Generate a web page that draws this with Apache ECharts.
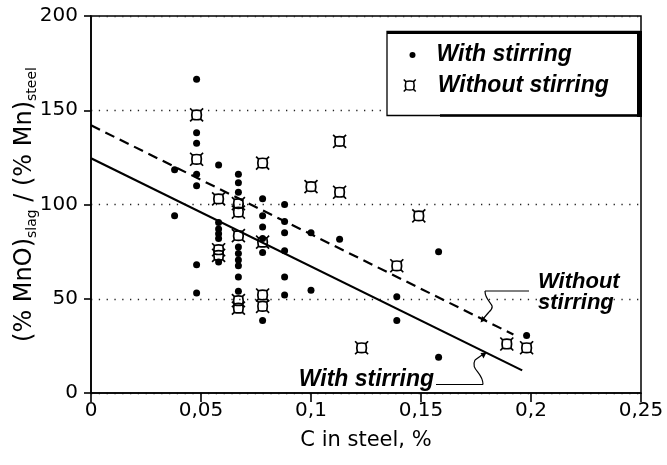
<!DOCTYPE html>
<html>
<head>
<meta charset="utf-8">
<script src="https://cdn.jsdelivr.net/npm/echarts@6/dist/echarts.min.js"></script>
<style>
html,body{margin:0;padding:0;background:#fff;}
#chart{width:667px;height:465px;}
</style>
</head>
<body>
<div id="chart"></div>
<script>
// ---- data ----
const withStirringC = [
  0.038, 0.038,
  0.048, 0.048, 0.048, 0.048, 0.048, 0.048, 0.048,
  0.058, 0.058, 0.058, 0.058, 0.058, 0.058,
  0.067, 0.067, 0.067, 0.067, 0.067, 0.067, 0.067, 0.067, 0.067,
  0.078, 0.078, 0.078, 0.078, 0.078, 0.078,
  0.088, 0.088, 0.088, 0.088, 0.088, 0.088,
  0.1, 0.1,
  0.113,
  0.139, 0.139,
  0.158, 0.158,
  0.198
];
const withStirringRatio = [
  118.5, 94,
  166.5, 138, 132.5, 116, 110, 68, 53,
  121, 90.5, 87, 84.5, 82, 69.5,
  116, 111.5, 106.5, 77.5, 74, 70.5, 67.5, 61.5, 54,
  103, 94, 88, 82, 74.5, 38.5,
  100, 91, 85, 75.5, 61.5, 52,
  85, 54.5,
  81.5,
  51, 38.5,
  75, 19,
  30.5
];
const withoutStirringC = [
  0.048, 0.048,
  0.058, 0.058, 0.058,
  0.067, 0.067, 0.067, 0.067, 0.067,
  0.078, 0.078, 0.078, 0.078,
  0.1,
  0.113, 0.113,
  0.123,
  0.139,
  0.149,
  0.189,
  0.198
];
const withoutStirringRatio = [
  147.5, 124,
  103, 76, 73,
  100.5, 96, 83.5, 49, 45,
  122, 80, 52, 46,
  109.5,
  133.5, 106.5,
  24,
  67.5,
  94,
  26,
  24
];
// regression lines (end points as drawn)
const fitWithC = [0, 0.196];
const fitWithRatio = [124.5, 12];
const fitWithoutC = [0, 0.192];
const fitWithoutRatio = [142, 31];

const xTicks = [0, 0.05, 0.1, 0.15, 0.2, 0.25];
const yTicks = [0, 50, 100, 150, 200];

const seriesNames = ['With stirring', 'Without stirring'];
const xTitle = 'C in steel, %';
// ---------------------------------------

const zip = (a, b) => a.map((v, i) => [v, b[i]]);
const BOX = 'path://M1 1 L4.2 4.2 M19 1 L15.8 4.2 M1 19 L4.2 15.8 M19 19 L15.8 15.8 ' +
            'M4.2 4.2 Q10 2.6 15.8 4.2 Q17.4 10 15.8 15.8 Q10 17.4 4.2 15.8 Q2.6 10 4.2 4.2 Z';

const tickFont = 'DejaVu Sans';
const boldFont = 'Liberation Sans';

const chart = echarts.init(document.getElementById('chart'), null, {renderer: 'canvas'});

const option = {
  backgroundColor: '#fff',
  animation: false,
  grid: {
    left: 91, right: 26, top: 16, bottom: 72,
    containLabel: false, outerBoundsMode: 'none',
    show: true, borderColor: '#000', borderWidth: 1.5, backgroundColor: 'transparent'
  },
  xAxis: {
    type: 'value', min: xTicks[0], max: xTicks[xTicks.length - 1], interval: 0.05,
    name: xTitle, nameLocation: 'middle', nameGap: 37, nameMoveOverlap: false,
    nameTextStyle: {fontFamily: tickFont, fontSize: 21, color: '#000'},
    axisLine: {show: true, lineStyle: {color: '#000', width: 1.6}},
    axisTick: {show: true, inside: false, length: 9, lineStyle: {color: '#000', width: 1.6}},
    axisLabel: {
      margin: 8, fontFamily: tickFont, fontSize: 20, color: '#000',
      formatter: v => String(+v.toFixed(2)).replace('.', ',')
    },
    splitLine: {show: false}
  },
  yAxis: {
    type: 'value', min: yTicks[0], max: yTicks[yTicks.length - 1], interval: 50,
    name: '(% MnO){sub|slag} / (% Mn){sub|steel}',
    nameLocation: 'middle', nameRotate: 90, nameGap: 52, nameMoveOverlap: false,
    nameTextStyle: {
      fontFamily: tickFont, fontSize: 24, color: '#000', lineHeight: 29,
      rich: {
        sub: {fontFamily: tickFont, fontSize: 14, color: '#000', lineHeight: 14, verticalAlign: 'bottom'}
      }
    },
    axisLine: {show: true, lineStyle: {color: '#000', width: 1.6}},
    axisTick: {show: true, inside: false, length: 7, lineStyle: {color: '#000', width: 1.6}},
    axisLabel: {margin: 13, fontFamily: tickFont, fontSize: 20, color: '#000'},
    splitLine: {show: true, lineStyle: {color: '#222', width: 1.3, type: [1.3, 6.5]}}
  },
  legend: [
    {
      data: [seriesNames[0]], left: 409.5, top: 43.5, padding: 0, z: 20,
      itemWidth: 6, itemHeight: 6, icon: 'circle', selectedMode: false,
      textStyle: {fontFamily: boldFont, fontSize: 23, fontWeight: 'bold', fontStyle: 'italic',
                  color: '#000', padding: [0, 0, 0, 16]}
    },
    {
      data: [seriesNames[1]], left: 403, top: 74, padding: 0, z: 20,
      itemWidth: 12, itemHeight: 12, selectedMode: false,
      itemStyle: {color: 'transparent', borderColor: '#000', borderWidth: 1.5},
      textStyle: {fontFamily: boldFont, fontSize: 23, fontWeight: 'bold', fontStyle: 'italic',
                  color: '#000', padding: [0, 0, 0, 17]}
    }
  ],
  graphic: [
    // legend frame
    {type: 'rect', z: 10, shape: {x: 387, y: 31.5, width: 253, height: 84},
     style: {fill: '#fff', stroke: '#000', lineWidth: 1.3}},
    {type: 'line', z: 11, shape: {x1: 387, y1: 32.5, x2: 642, y2: 32.5}, style: {stroke: '#000', lineWidth: 3}},
    {type: 'line', z: 11, shape: {x1: 639.5, y1: 31, x2: 639.5, y2: 117}, style: {stroke: '#000', lineWidth: 5}},
    {type: 'line', z: 11, shape: {x1: 440, y1: 115.5, x2: 642, y2: 115.5}, style: {stroke: '#000', lineWidth: 2.5}},
    // annotation: Without stirring
    {type: 'text', z: 10, style: {x: 538, y: 282, text: 'Without', fontFamily: boldFont, fontSize: 22,
      fontWeight: 'bold', fontStyle: 'italic', fill: '#000', verticalAlign: 'middle', align: 'left'}},
    {type: 'text', z: 10, style: {x: 538, y: 303, text: 'stirring', fontFamily: boldFont, fontSize: 22,
      fontWeight: 'bold', fontStyle: 'italic', fill: '#000', verticalAlign: 'middle', align: 'left'}},
    {type: 'line', z: 10, shape: {x1: 529, y1: 291, x2: 485, y2: 291}, style: {stroke: '#000', lineWidth: 1.2}},
    {type: 'bezierCurve', z: 10, shape: {x1: 485, y1: 291, cpx1: 485, cpy1: 303, cpx2: 498, cpy2: 304, x2: 489, y2: 312},
     style: {stroke: '#000', lineWidth: 1.2, fill: 'none'}},
    {type: 'line', z: 10, shape: {x1: 489, y1: 312, x2: 483, y2: 319}, style: {stroke: '#000', lineWidth: 1.2}},
    {type: 'polygon', z: 10, shape: {points: [[480.5, 322.5], [486.5, 320], [482, 316]]}, style: {fill: '#000'}},
    // annotation: With stirring
    {type: 'text', z: 10, style: {x: 434, y: 380, text: 'With stirring', fontFamily: boldFont, fontSize: 23,
      fontWeight: 'bold', fontStyle: 'italic', fill: '#000', verticalAlign: 'middle', align: 'right'}},
    {type: 'line', z: 10, shape: {x1: 436, y1: 384.5, x2: 483, y2: 384.5}, style: {stroke: '#000', lineWidth: 1.2}},
    {type: 'bezierCurve', z: 10, shape: {x1: 483, y1: 384.5, cpx1: 483, cpy1: 372, cpx2: 470, cpy2: 370, x2: 475, y2: 360},
     style: {stroke: '#000', lineWidth: 1.2, fill: 'none'}},
    {type: 'line', z: 10, shape: {x1: 475, y1: 360, x2: 482, y2: 355}, style: {stroke: '#000', lineWidth: 1.2}},
    {type: 'polygon', z: 10, shape: {points: [[486.5, 352.5], [480.5, 353], [483.5, 358.5]]}, style: {fill: '#000'}}
  ],
  series: [
    {
      name: seriesNames[0], type: 'scatter', symbol: 'circle', symbolSize: 7, z: 4,
      itemStyle: {color: '#000', opacity: 1},
      data: zip(withStirringC, withStirringRatio)
    },
    {
      name: seriesNames[1], type: 'scatter', symbol: BOX, symbolSize: 13, z: 5,
      itemStyle: {color: 'transparent', borderColor: '#000', borderWidth: 1.7, opacity: 1},
      data: zip(withoutStirringC, withoutStirringRatio)
    },
    {
      name: 'fit with stirring', type: 'line', symbol: 'none', z: 3,
      lineStyle: {color: '#000', width: 2.2},
      data: zip(fitWithC, fitWithRatio)
    },
    {
      name: 'fit without stirring', type: 'line', symbol: 'none', z: 3,
      lineStyle: {color: '#000', width: 2.2, type: [10, 6]},
      data: zip(fitWithoutC, fitWithoutRatio)
    }
  ]
};
chart.setOption(option);
</script>
</body>
</html>
